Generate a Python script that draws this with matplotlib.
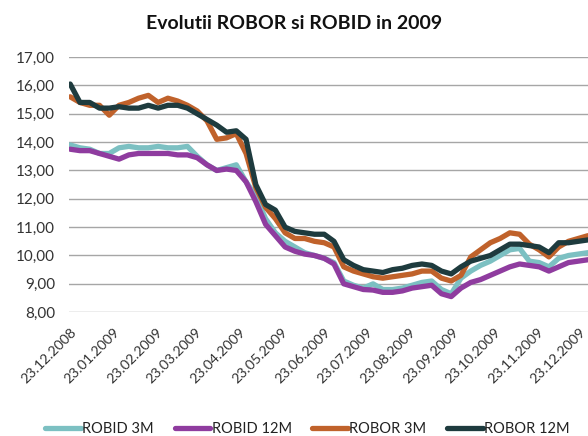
import numpy as np
import pandas as pd
import matplotlib
matplotlib.use("Agg")
import matplotlib.pyplot as plt
from matplotlib.ticker import FuncFormatter

# weekly readings from 23.12.2008
dates = pd.date_range("2008-12-23", periods=54, freq="7D")

robid_3m = [13.9, 13.8, 13.75, 13.6, 13.6, 13.8, 13.85, 13.8, 13.8, 13.85,
            13.8, 13.8, 13.85, 13.5, 13.2, 13.0, 13.1, 13.2, 12.6, 12.1,
            11.3, 10.8, 10.5, 10.3, 10.1, 10.0, 9.9, 9.75, 9.1, 8.95,
            8.85, 9.0, 8.8, 8.8, 8.85, 8.95, 9.05, 9.1, 8.8, 8.65,
            9.2, 9.45, 9.65, 9.8, 10.0, 10.2, 10.25, 9.8, 9.75, 9.6,
            9.9, 10.0, 10.05, 10.1]
robid_12m = [13.75, 13.7, 13.7, 13.6, 13.5, 13.4, 13.55, 13.6, 13.6, 13.6,
             13.6, 13.55, 13.55, 13.45, 13.2, 13.0, 13.05, 13.0, 12.6, 11.9,
             11.1, 10.7, 10.3, 10.15, 10.05, 10.0, 9.9, 9.7, 9.0, 8.9,
             8.8, 8.78, 8.7, 8.7, 8.75, 8.85, 8.9, 8.95, 8.65, 8.55,
             8.85, 9.05, 9.15, 9.3, 9.45, 9.6, 9.7, 9.65, 9.6, 9.45,
             9.6, 9.75, 9.8, 9.85]
robor_3m = [15.6, 15.4, 15.3, 15.3, 14.95, 15.3, 15.4, 15.55, 15.65, 15.4,
            15.55, 15.45, 15.3, 15.1, 14.75, 14.1, 14.15, 14.3, 13.6, 12.4,
            11.7, 11.3, 10.8, 10.6, 10.6, 10.5, 10.45, 10.3, 9.6, 9.45,
            9.35, 9.25, 9.2, 9.25, 9.3, 9.35, 9.45, 9.45, 9.2, 9.1,
            9.3, 9.95, 10.2, 10.45, 10.6, 10.8, 10.75, 10.4, 10.2, 9.95,
            10.3, 10.5, 10.6, 10.7]
robor_12m = [16.05, 15.4, 15.4, 15.2, 15.2, 15.25, 15.2, 15.2, 15.3, 15.2,
             15.3, 15.3, 15.2, 15.0, 14.8, 14.6, 14.35, 14.4, 14.1, 12.5,
             11.8, 11.6, 11.0, 10.85, 10.8, 10.75, 10.75, 10.5, 9.85, 9.65,
             9.5, 9.45, 9.4, 9.5, 9.55, 9.65, 9.7, 9.65, 9.45, 9.35,
             9.6, 9.8, 9.9, 10.0, 10.2, 10.4, 10.4, 10.35, 10.3, 10.1,
             10.45, 10.45, 10.5, 10.55]

tick_labels = ["23.12.2008", "23.01.2009", "23.02.2009", "23.03.2009", "23.04.2009",
               "23.05.2009", "23.06.2009", "23.07.2009", "23.08.2009", "23.09.2009",
               "23.10.2009", "23.11.2009", "23.12.2009"]
tick_dates = pd.to_datetime(tick_labels, format="%d.%m.%Y")

series = [
    ("ROBID 3M", robid_3m, "#7cc0c2"),
    ("ROBID 12M", robid_12m, "#8f3c9f"),
    ("ROBOR 3M", robor_3m, "#c0622b"),
    ("ROBOR 12M", robor_12m, "#1e3b3e"),
]

plt.rcParams["font.family"] = ["Lato", "DejaVu Sans"]

fig = plt.figure(figsize=(5.88, 4.36), dpi=100)
ax = fig.add_axes([0.117, 0.284, 0.883, 0.585])

for name, vals, col in series:
    ax.plot(dates, vals, color=col, lw=3.8, label=name, solid_capstyle="round")

ax.set_ylim(8, 17)
ax.set_yticks(range(8, 18))
ax.yaxis.set_major_formatter(FuncFormatter(lambda v, p: f"{v:.2f}".replace(".", ",")))
ax.set_xlim(pd.Timestamp("2008-12-22"), pd.Timestamp("2009-12-29"))
ax.set_xticks(tick_dates)
ax.set_xticklabels(tick_labels, rotation=45, ha="right", va="top", rotation_mode="anchor")

ax.grid(axis="y", color="#a6a6a6", lw=1)
ax.set_axisbelow(True)
for s in ax.spines.values():
    s.set_visible(False)
ax.tick_params(length=0, labelsize=11, colors="#333333")
ax.tick_params(axis="x", labelsize=10.2, pad=10)
ax.tick_params(axis="y", pad=10)

fig.text(0.5, 0.945, "Evolutii ROBOR si ROBID in 2009", ha="center", va="center",
         fontsize=14, fontweight="bold", color="#111111")

fig.legend(loc="lower center", bbox_to_anchor=(0.523, -0.03), ncol=4, frameon=False,
           fontsize=10.5, handlelength=2.45, handletextpad=0.1, columnspacing=1.4,
           labelcolor="#222222")

fig.savefig("out.png", dpi=100)
